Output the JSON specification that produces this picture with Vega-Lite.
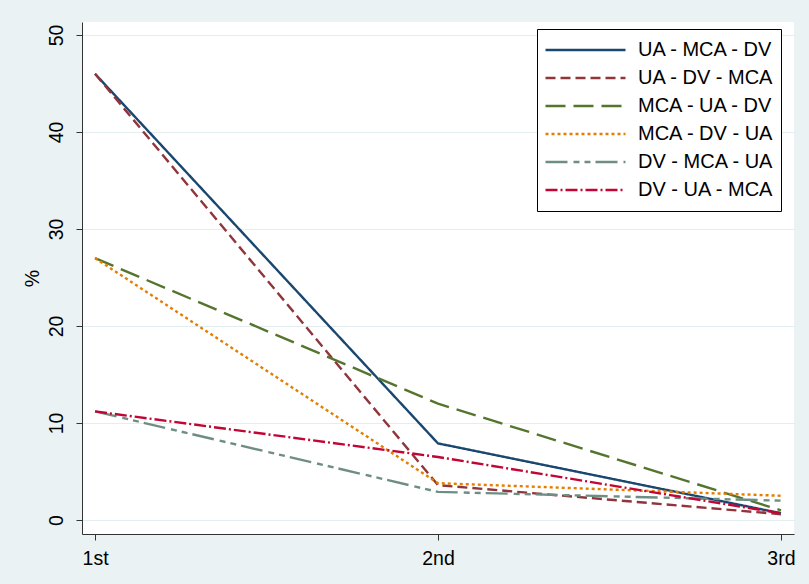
{
  "$schema": "https://vega.github.io/schema/vega-lite/v6.json",
  "autosize": "none",
  "width": 712,
  "height": 512,
  "padding": {"left": 82, "top": 22, "right": 15, "bottom": 50},
  "background": "#eaf2f3",
  "view": {"fill": "white", "stroke": null},
  "config": {
    "font": "Liberation Sans",
    "axis": {"labelFont": "Liberation Sans", "titleFont": "Liberation Sans", "labelColor": "black", "titleColor": "black", "domainColor": "#333333", "tickColor": "#333333", "domainWidth": 1, "tickWidth": 1},
    "legend": {"labelFont": "Liberation Sans"}
  },
  "data": {
    "values": [
      {"rank": "1st", "series": "UA - MCA - DV", "pct": 46.0},
      {"rank": "2nd", "series": "UA - MCA - DV", "pct": 7.9},
      {"rank": "3rd", "series": "UA - MCA - DV", "pct": 0.7},
      {"rank": "1st", "series": "UA - DV - MCA", "pct": 46.0},
      {"rank": "2nd", "series": "UA - DV - MCA", "pct": 3.6},
      {"rank": "3rd", "series": "UA - DV - MCA", "pct": 0.6},
      {"rank": "1st", "series": "MCA - UA - DV", "pct": 27.0},
      {"rank": "2nd", "series": "MCA - UA - DV", "pct": 12.0},
      {"rank": "3rd", "series": "MCA - UA - DV", "pct": 1.0},
      {"rank": "1st", "series": "MCA - DV - UA", "pct": 27.0},
      {"rank": "2nd", "series": "MCA - DV - UA", "pct": 3.8},
      {"rank": "3rd", "series": "MCA - DV - UA", "pct": 2.5},
      {"rank": "1st", "series": "DV - MCA - UA", "pct": 11.2},
      {"rank": "2nd", "series": "DV - MCA - UA", "pct": 2.9},
      {"rank": "3rd", "series": "DV - MCA - UA", "pct": 2.0},
      {"rank": "1st", "series": "DV - UA - MCA", "pct": 11.2},
      {"rank": "2nd", "series": "DV - UA - MCA", "pct": 6.5},
      {"rank": "3rd", "series": "DV - UA - MCA", "pct": 0.7}
    ]
  },
  "mark": {"type": "line", "strokeWidth": 2.4, "clip": false},
  "encoding": {
    "x": {
      "field": "rank", "type": "ordinal", "sort": ["1st", "2nd", "3rd"],
      "scale": {"type": "point", "padding": 0.038},
      "axis": {"title": null, "labelAngle": 0, "labelFontSize": 19.5, "labelPadding": 9, "tickSize": 6, "grid": false}
    },
    "y": {
      "field": "pct", "type": "quantitative",
      "scale": {"domain": [-1.44, 51.34], "nice": false, "zero": false},
      "axis": {"title": "%", "values": [0, 10, 20, 30, 40, 50], "labelAngle": -90, "labelAlign": "center", "labelBaseline": "bottom", "labelFontSize": 19.5, "labelPadding": 10, "tickSize": 6, "titleFontSize": 19.5, "titleFontWeight": "normal", "titlePadding": 4, "grid": true, "gridColor": "#e4edef", "gridWidth": 1}
    },
    "color": {
      "field": "series", "type": "nominal",
      "scale": {
        "domain": ["UA - MCA - DV", "UA - DV - MCA", "MCA - UA - DV", "MCA - DV - UA", "DV - MCA - UA", "DV - UA - MCA"],
        "range": ["#1a476f", "#90353b", "#55752f", "#e37e00", "#6e8e84", "#c10534"]
      },
      "legend": {
        "title": null, "orient": "none", "legendX": 455, "legendY": 7,
        "symbolType": "stroke", "symbolSize": 6400, "symbolStrokeWidth": 2.5,
        "clipHeight": 28, "rowPadding": 0, "labelOffset": 11,
        "labelFontSize": 20, "labelColor": "black", "padding": 7,
        "strokeColor": "black", "fillColor": "white",
        "labelLimit": 300
      }
    },
    "strokeDash": {
      "field": "series", "type": "nominal",
      "scale": {
        "domain": ["UA - MCA - DV", "UA - DV - MCA", "MCA - UA - DV", "MCA - DV - UA", "DV - MCA - UA", "DV - UA - MCA"],
        "range": [[1, 0], [10, 5], [20, 8], [3, 3], [22, 6, 6, 5, 6, 5], [12, 3, 2, 3]]
      },
      "legend": null
    }
  }
}
